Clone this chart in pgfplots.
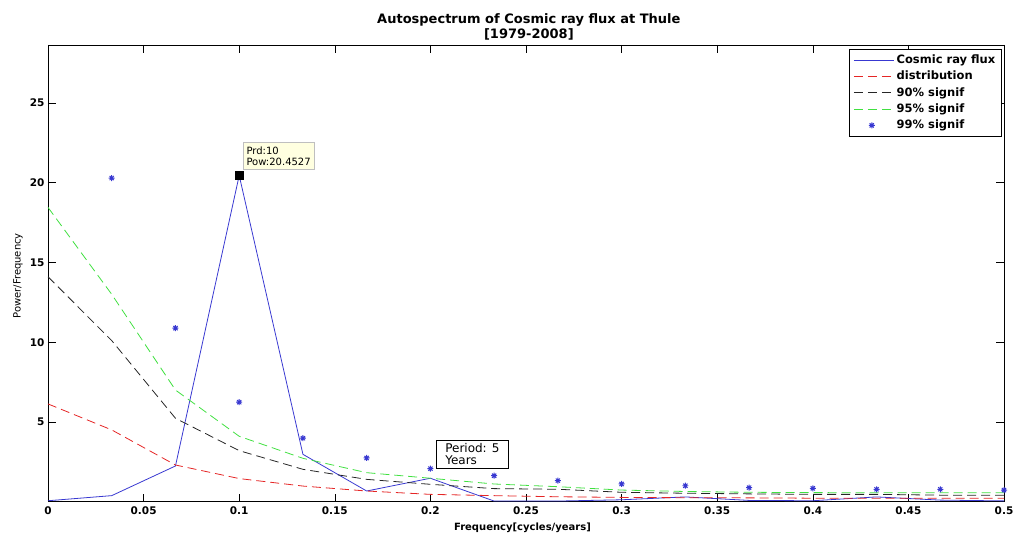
\documentclass[border=0pt]{standalone}
\usepackage{pgfplots}
\pgfplotsset{compat=1.18}
\usepackage{fontspec}
\setmainfont{DejaVu Sans}
\definecolor{cblue}{rgb}{0.22,0.22,0.82}
\definecolor{cred}{rgb}{0.9,0.15,0.15}
\definecolor{cgreen}{rgb}{0.25,0.88,0.25}
\definecolor{cblack}{rgb}{0.15,0.15,0.15}
\definecolor{tipbg}{rgb}{1,1,0.88}
\pgfdeclareplotmark{mstar}{%
  \pgfpathmoveto{\pgfqpoint{-\pgfplotmarksize}{0pt}}%
  \pgfpathlineto{\pgfqpoint{\pgfplotmarksize}{0pt}}%
  \pgfpathmoveto{\pgfqpoint{0pt}{-\pgfplotmarksize}}%
  \pgfpathlineto{\pgfqpoint{0pt}{\pgfplotmarksize}}%
  \pgfpathmoveto{\pgfqpoint{-0.7\pgfplotmarksize}{-0.7\pgfplotmarksize}}%
  \pgfpathlineto{\pgfqpoint{0.7\pgfplotmarksize}{0.7\pgfplotmarksize}}%
  \pgfpathmoveto{\pgfqpoint{-0.7\pgfplotmarksize}{0.7\pgfplotmarksize}}%
  \pgfpathlineto{\pgfqpoint{0.7\pgfplotmarksize}{-0.7\pgfplotmarksize}}%
  \pgfusepathqstroke}
\pgfplotsset{
  lineleg/.style={legend image code/.code={\draw[##1] (0bp,0bp) -- (40bp,0bp);}},
  markleg/.style={legend image code/.code={\draw[##1] plot coordinates {(18bp,0bp)};}},
}
\begin{document}
\begin{tikzpicture}
\path[use as bounding box] (-48bp,-34.3bp) rectangle (969bp,501.7bp);
\begin{axis}[
  at={(0,0)}, anchor=south west, scale only axis,
  width=956bp, height=456.7bp,
  xmin=0, xmax=0.5, ymin=0, ymax=28.63,
  clip=false,
  axis line style={line width=0.8pt},
  xtick={0,0.05,0.1,0.15,0.2,0.25,0.3,0.35,0.4,0.45,0.5},
  xticklabels={0,0.05,0.1,0.15,0.2,0.25,0.3,0.35,0.4,0.45,0.5},
  ytick={5,10,15,20,25},
  yticklabels={5,10,15,20,25},
  major tick length=8bp,
  tick style={line width=0.6pt, black},
  tick label style={font=\fontsize{10.5bp}{12bp}\selectfont\bfseries},
  xticklabel style={yshift=-1bp},
  xlabel={Frequency[cycles/years]},
  xlabel style={font=\fontsize{10bp}{12bp}\selectfont\bfseries, at={(axis description cs:0.4963,-0.0576)}, anchor=center},
  ylabel={Power/Frequency},
  ylabel style={font=\fontsize{10bp}{12bp}\selectfont, at={(axis description cs:-0.0314,0.4946)}, anchor=center},
  title={Autospectrum of Cosmic ray flux at Thule\\{}[1979-2008]},
  title style={font=\fontsize{13bp}{15bp}\selectfont\bfseries, align=center, at={(axis description cs:0.503,1.0274)}, anchor=center},
  legend style={at={(axis description cs:0.998,0.991)}, anchor=north east,
    draw=black, line width=0.6pt, inner xsep=4bp, inner ysep=2.6bp,
    font=\fontsize{11.5bp}{14bp}\selectfont\bfseries,
    nodes={inner ysep=1.9bp, inner xsep=2.5bp, text height=9.5bp, text depth=3bp},
    row sep=0bp},
  legend cell align=left,
]
\addplot[cblue, line width=0.8pt, mark=none, lineleg] coordinates {
(0.000000,0.06) (0.033333,0.38) (0.066667,2.24) (0.100000,20.45)
(0.133333,2.97) (0.166667,0.67) (0.200000,1.47) (0.233333,0.04)
(0.266667,0.04) (0.300000,0.12) (0.333333,0.30) (0.366667,0.08)
(0.400000,0.06) (0.433333,0.30) (0.466667,0.10) (0.500000,0.05)};
\addlegendentry{Cosmic ray flux}
\addplot[cred, line width=0.8pt, dash pattern=on 9bp off 5bp, mark=none, lineleg] coordinates {
(0.000000,6.13) (0.033333,4.50) (0.066667,2.30) (0.100000,1.45)
(0.133333,0.98) (0.166667,0.67) (0.200000,0.46) (0.233333,0.38)
(0.266667,0.31) (0.300000,0.27) (0.333333,0.25) (0.366667,0.24)
(0.400000,0.22) (0.433333,0.22) (0.466667,0.22) (0.500000,0.22)};
\addlegendentry{distribution}
\addplot[cblack, line width=0.8pt, dash pattern=on 9bp off 5bp, mark=none, lineleg] coordinates {
(0.000000,14.10) (0.033333,10.10) (0.066667,5.23) (0.100000,3.20)
(0.133333,2.03) (0.166667,1.40) (0.200000,1.09) (0.233333,0.82)
(0.266667,0.78) (0.300000,0.59) (0.333333,0.53) (0.366667,0.49)
(0.400000,0.46) (0.433333,0.46) (0.466667,0.41) (0.500000,0.40)};
\addlegendentry{90\% signif}
\addplot[cgreen, line width=0.8pt, dash pattern=on 9bp off 5bp, mark=none, lineleg] coordinates {
(0.000000,18.45) (0.033333,13.00) (0.066667,7.00) (0.100000,4.10)
(0.133333,2.72) (0.166667,1.82) (0.200000,1.47) (0.233333,1.11)
(0.266667,0.94) (0.300000,0.73) (0.333333,0.64) (0.366667,0.59)
(0.400000,0.57) (0.433333,0.56) (0.466667,0.56) (0.500000,0.56)};
\addlegendentry{95\% signif}
\addplot[cblue, only marks, mark=mstar, mark size=3bp, line width=1pt, markleg] coordinates {
(0.033333,20.29) (0.066667,10.88) (0.100000,6.24)
(0.133333,3.98) (0.166667,2.74) (0.200000,2.07) (0.233333,1.63)
(0.266667,1.32) (0.300000,1.11) (0.333333,1.00) (0.366667,0.88)
(0.400000,0.84) (0.433333,0.78) (0.466667,0.78) (0.500000,0.73)};
\addlegendentry{99\% signif}
\addplot[black, only marks, mark=square*, mark size=4bp, forget plot] coordinates {(0.1,20.45)};
\node[anchor=north west, draw=black!25, fill=tipbg, line width=0.4pt,
  font=\fontsize{10bp}{10.7bp}\selectfont, align=left, inner xsep=3bp, inner ysep=2.5bp,
  minimum width=71.6bp, minimum height=26.6bp]
  at (axis cs:0.1018,22.52) {Prd:10\\Pow:20.4527};
\node[anchor=north west, draw=black, fill=white, line width=0.6pt,
  font=\fontsize{12bp}{12.7bp}\selectfont, align=left, inner xsep=6bp, inner ysep=2bp,
  minimum width=72.3bp, minimum height=28bp]
  at (axis cs:0.2029,3.89) {Period: 5\\Years};
\end{axis}
\end{tikzpicture}
\end{document}
